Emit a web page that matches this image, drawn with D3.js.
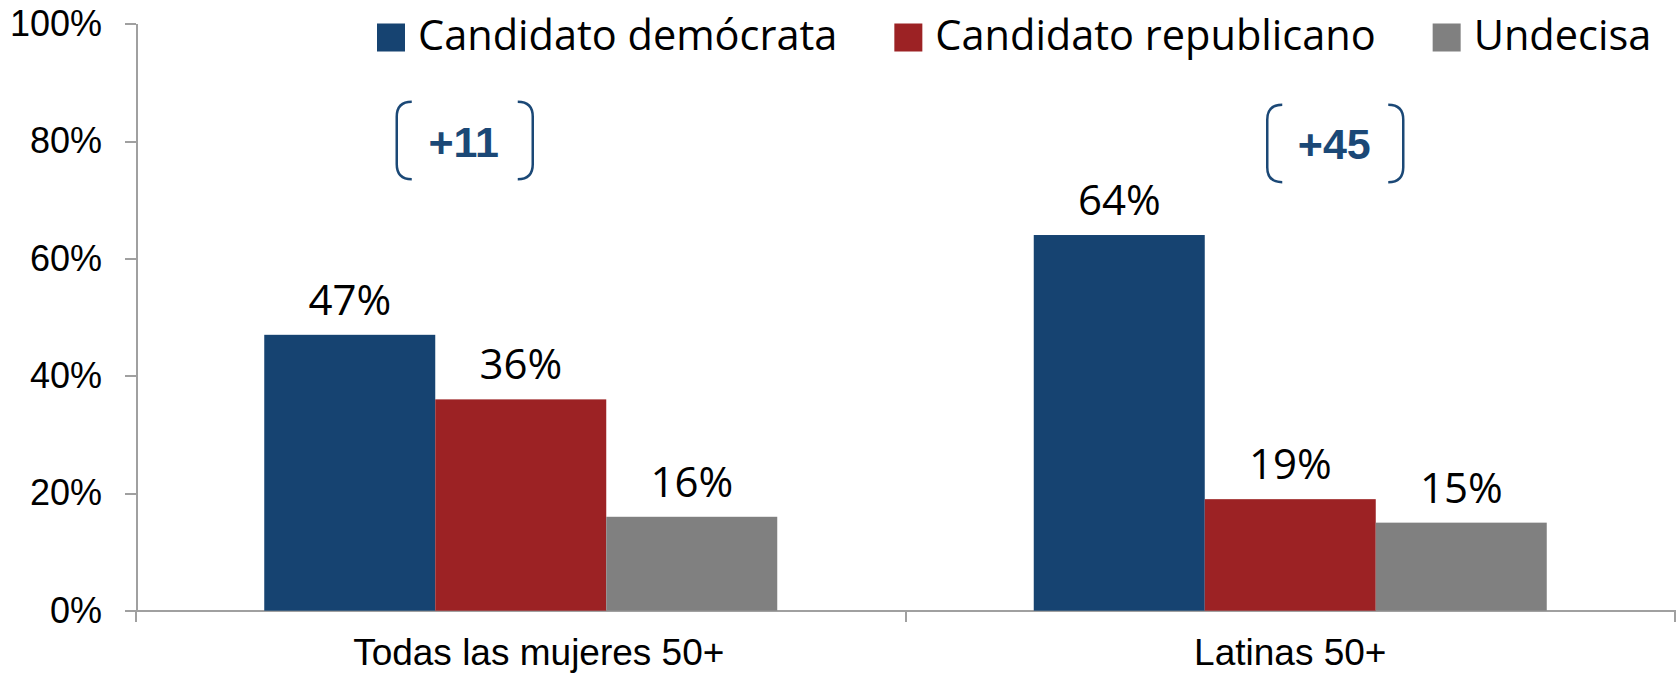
<!DOCTYPE html>
<html>
<head>
<meta charset="utf-8">
<script src="https://cdn.jsdelivr.net/npm/d3@7"></script>
<style>
  html, body { margin: 0; padding: 0; background: #fff; }
  svg { display: block; }
  .axis path, .axis line { stroke: #a0a0a0; stroke-width: 2px; shape-rendering: crispEdges; }
  .axis text { font-family: "Liberation Sans", Arial, sans-serif; fill: #000; }
</style>
</head>
<body>
<div id="container"></div>
<script>
// data
var categories = ["Todas las mujeres 50+", "Latinas 50+"];
var series = ["Candidato demócrata", "Candidato republicano", "Undecisa"];
var democrata = [47, 64];
var republicano = [36, 19];
var undecisa = [16, 15];
var yTicks = [0, 20, 40, 60, 80, 100];

var colors = ["#164371", "#9c2224", "#808080"];
var annoColor = "#1b4876";

var width = 1680, height = 673;
var margin = { top: 23.7, right: 5, bottom: 62.3, left: 136 };

var svg = d3.select("#container")
  .append("svg")
  .attr("width", width)
  .attr("height", height);

var x = d3.scaleBand()
  .domain(categories)
  .range([margin.left, width - margin.right]);

var xs = d3.scaleBand()
  .domain(series)
  .range([0, x.bandwidth()])
  .paddingInner(0)
  .paddingOuter(0.75);

var y = d3.scaleLinear()
  .domain([0, 100])
  .range([height - margin.bottom, margin.top]);

var rows = categories.map(function (c, i) {
  return { category: c, values: [democrata[i], republicano[i], undecisa[i]] };
});

// y axis
svg.append("g")
  .attr("class", "axis")
  .attr("transform", "translate(" + margin.left + ",0)")
  .call(d3.axisLeft(y).tickValues(yTicks).tickFormat(function (d) { return d + "%"; })
    .tickSize(11).tickSizeOuter(0).tickPadding(23))
  .call(function (g) { g.selectAll("text").style("font-size", "36px"); });

// x axis (labels only, boundary ticks drawn below)
var labelShift = [18, 0];
var xAxis = svg.append("g")
  .attr("class", "axis")
  .attr("transform", "translate(0," + y(0) + ")")
  .call(d3.axisBottom(x).tickSize(0).tickSizeOuter(0).tickPadding(28));
xAxis.selectAll("text")
  .style("font-size", "37px")
  .attr("dx", function (d, i) { return labelShift[i]; });

var bounds = categories.map(function (c) { return x(c); }).concat([x(categories[categories.length - 1]) + x.bandwidth()]);
xAxis.selectAll("line.bound")
  .data(bounds)
  .enter().append("line")
  .attr("class", "bound")
  .attr("x1", function (d) { return d; })
  .attr("x2", function (d) { return d; })
  .attr("y1", 0)
  .attr("y2", 11);

// bars
var groups = svg.selectAll("g.group")
  .data(rows)
  .enter().append("g")
  .attr("class", "group")
  .attr("transform", function (d) { return "translate(" + x(d.category) + ",0)"; });

groups.selectAll("rect")
  .data(function (d) { return d.values; })
  .enter().append("rect")
  .attr("x", function (d, i) { return xs(series[i]); })
  .attr("y", function (d) { return y(d); })
  .attr("width", xs.bandwidth())
  .attr("height", function (d) { return y(0) - y(d); })
  .attr("fill", function (d, i) { return colors[i]; });

groups.selectAll("text.val")
  .data(function (d) { return d.values; })
  .enter().append("text")
  .attr("class", "val")
  .attr("x", function (d, i) { return xs(series[i]) + xs.bandwidth() / 2; })
  .attr("y", function (d) { return y(d) - 20; })
  .attr("text-anchor", "middle")
  .style("font-family", "'Open Sans', sans-serif")
  .style("font-size", "42px")
  .text(function (d) { return d + "%"; });

// margin annotations (dem - rep), placed by hand like the original slide
var annoOffset = [-56, 45];
var annoTop = [86.7, 86.2];
var annoBottom = [73.5, 73.0];
var bw = 68, arm = 15;

rows.forEach(function (r, i) {
  var cx = x(r.category) + x.bandwidth() / 2 + annoOffset[i];
  var t = y(annoTop[i]), b = y(annoBottom[i]);
  var g = svg.append("g").attr("class", "anno");
  var left = "M" + (cx - bw + arm) + "," + t +
    " Q" + (cx - bw) + "," + t + " " + (cx - bw) + "," + (t + arm) +
    " L" + (cx - bw) + "," + (b - arm) +
    " Q" + (cx - bw) + "," + b + " " + (cx - bw + arm) + "," + b;
  var right = "M" + (cx + bw - arm) + "," + t +
    " Q" + (cx + bw) + "," + t + " " + (cx + bw) + "," + (t + arm) +
    " L" + (cx + bw) + "," + (b - arm) +
    " Q" + (cx + bw) + "," + b + " " + (cx + bw - arm) + "," + b;
  g.selectAll("path").data([left, right]).enter().append("path")
    .attr("d", function (d) { return d; })
    .attr("fill", "none")
    .attr("stroke", annoColor)
    .attr("stroke-width", 2.5);
  g.append("text")
    .attr("x", cx - 1)
    .attr("y", (t + b) / 2 + 16)
    .attr("text-anchor", "middle")
    .style("font-family", "'Liberation Sans', Arial, sans-serif")
    .style("font-weight", "bold")
    .style("font-size", "43px")
    .attr("fill", annoColor)
    .text("+" + (r.values[0] - r.values[1]));
});

// legend
var legend = svg.append("g").attr("class", "legend");
var lx = 377;
series.forEach(function (s, i) {
  legend.append("rect")
    .attr("x", lx)
    .attr("y", 23.5)
    .attr("width", 28)
    .attr("height", 28)
    .attr("fill", colors[i]);
  var t = legend.append("text")
    .attr("x", lx + 41)
    .attr("y", 50)
    .style("font-family", "'Open Sans', sans-serif")
    .style("font-size", "41.5px")
    .text(s);
  lx += 41 + t.node().getComputedTextLength() + 57;
});
</script>
</body>
</html>
